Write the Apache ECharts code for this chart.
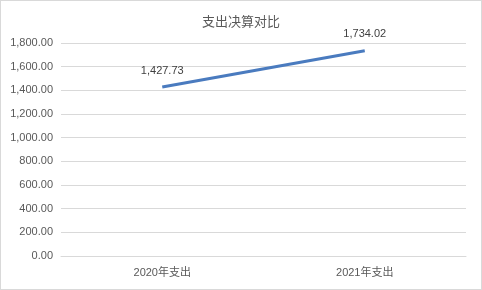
<!DOCTYPE html>
<html><head><meta charset="utf-8">
<script src="https://cdn.jsdelivr.net/npm/echarts@6/dist/echarts.min.js"></script>
<style>html,body{margin:0;padding:0;background:#fff}#c{width:482px;height:290px;box-sizing:border-box;border:1px solid #d9d9d9}</style>
</head><body><div id="c"></div>
<script>
var title = '支出决算对比';
var categories = ['2020年支出', '2021年支出'];
var values = [1427.73, 1734.02];
var yMin = 0, yMax = 1800, yStep = 200;

function fmt(v){ return Number(v).toLocaleString('en-US',{minimumFractionDigits:2,maximumFractionDigits:2}); }
var ff = "'Liberation Sans','Noto Sans CJK SC',sans-serif";
var chart = echarts.init(document.getElementById('c'));
chart.setOption({
  animation:false,
  title:{text:title,left:'center',top:10,textStyle:{fontSize:13,fontWeight:'normal',color:'#595959',fontFamily:ff}},
  grid:{left:60,right:15,top:42,bottom:33},
  xAxis:{type:'category',data:categories,boundaryGap:true,
    axisLine:{lineStyle:{color:'#d9d9d9'}},axisTick:{show:false},
    axisLabel:{color:'#595959',fontSize:11,fontFamily:ff,margin:11}},
  yAxis:{type:'value',min:yMin,max:yMax,interval:yStep,
    axisLine:{show:false},axisTick:{show:false},
    splitLine:{lineStyle:{color:'#d9d9d9'}},
    axisLabel:{color:'#595959',fontSize:11,fontFamily:ff,margin:8,formatter:fmt}},
  series:[{type:'line',data:values,symbol:'circle',symbolSize:0,showSymbol:true,
    itemStyle:{color:'#4a7bbf'},
    lineStyle:{color:'#4a7bbf',width:3},
    label:{show:true,position:'top',distance:11,color:'#404040',fontSize:11,fontFamily:ff,formatter:function(p){return fmt(p.value);}}}]
});
</script></body></html>
